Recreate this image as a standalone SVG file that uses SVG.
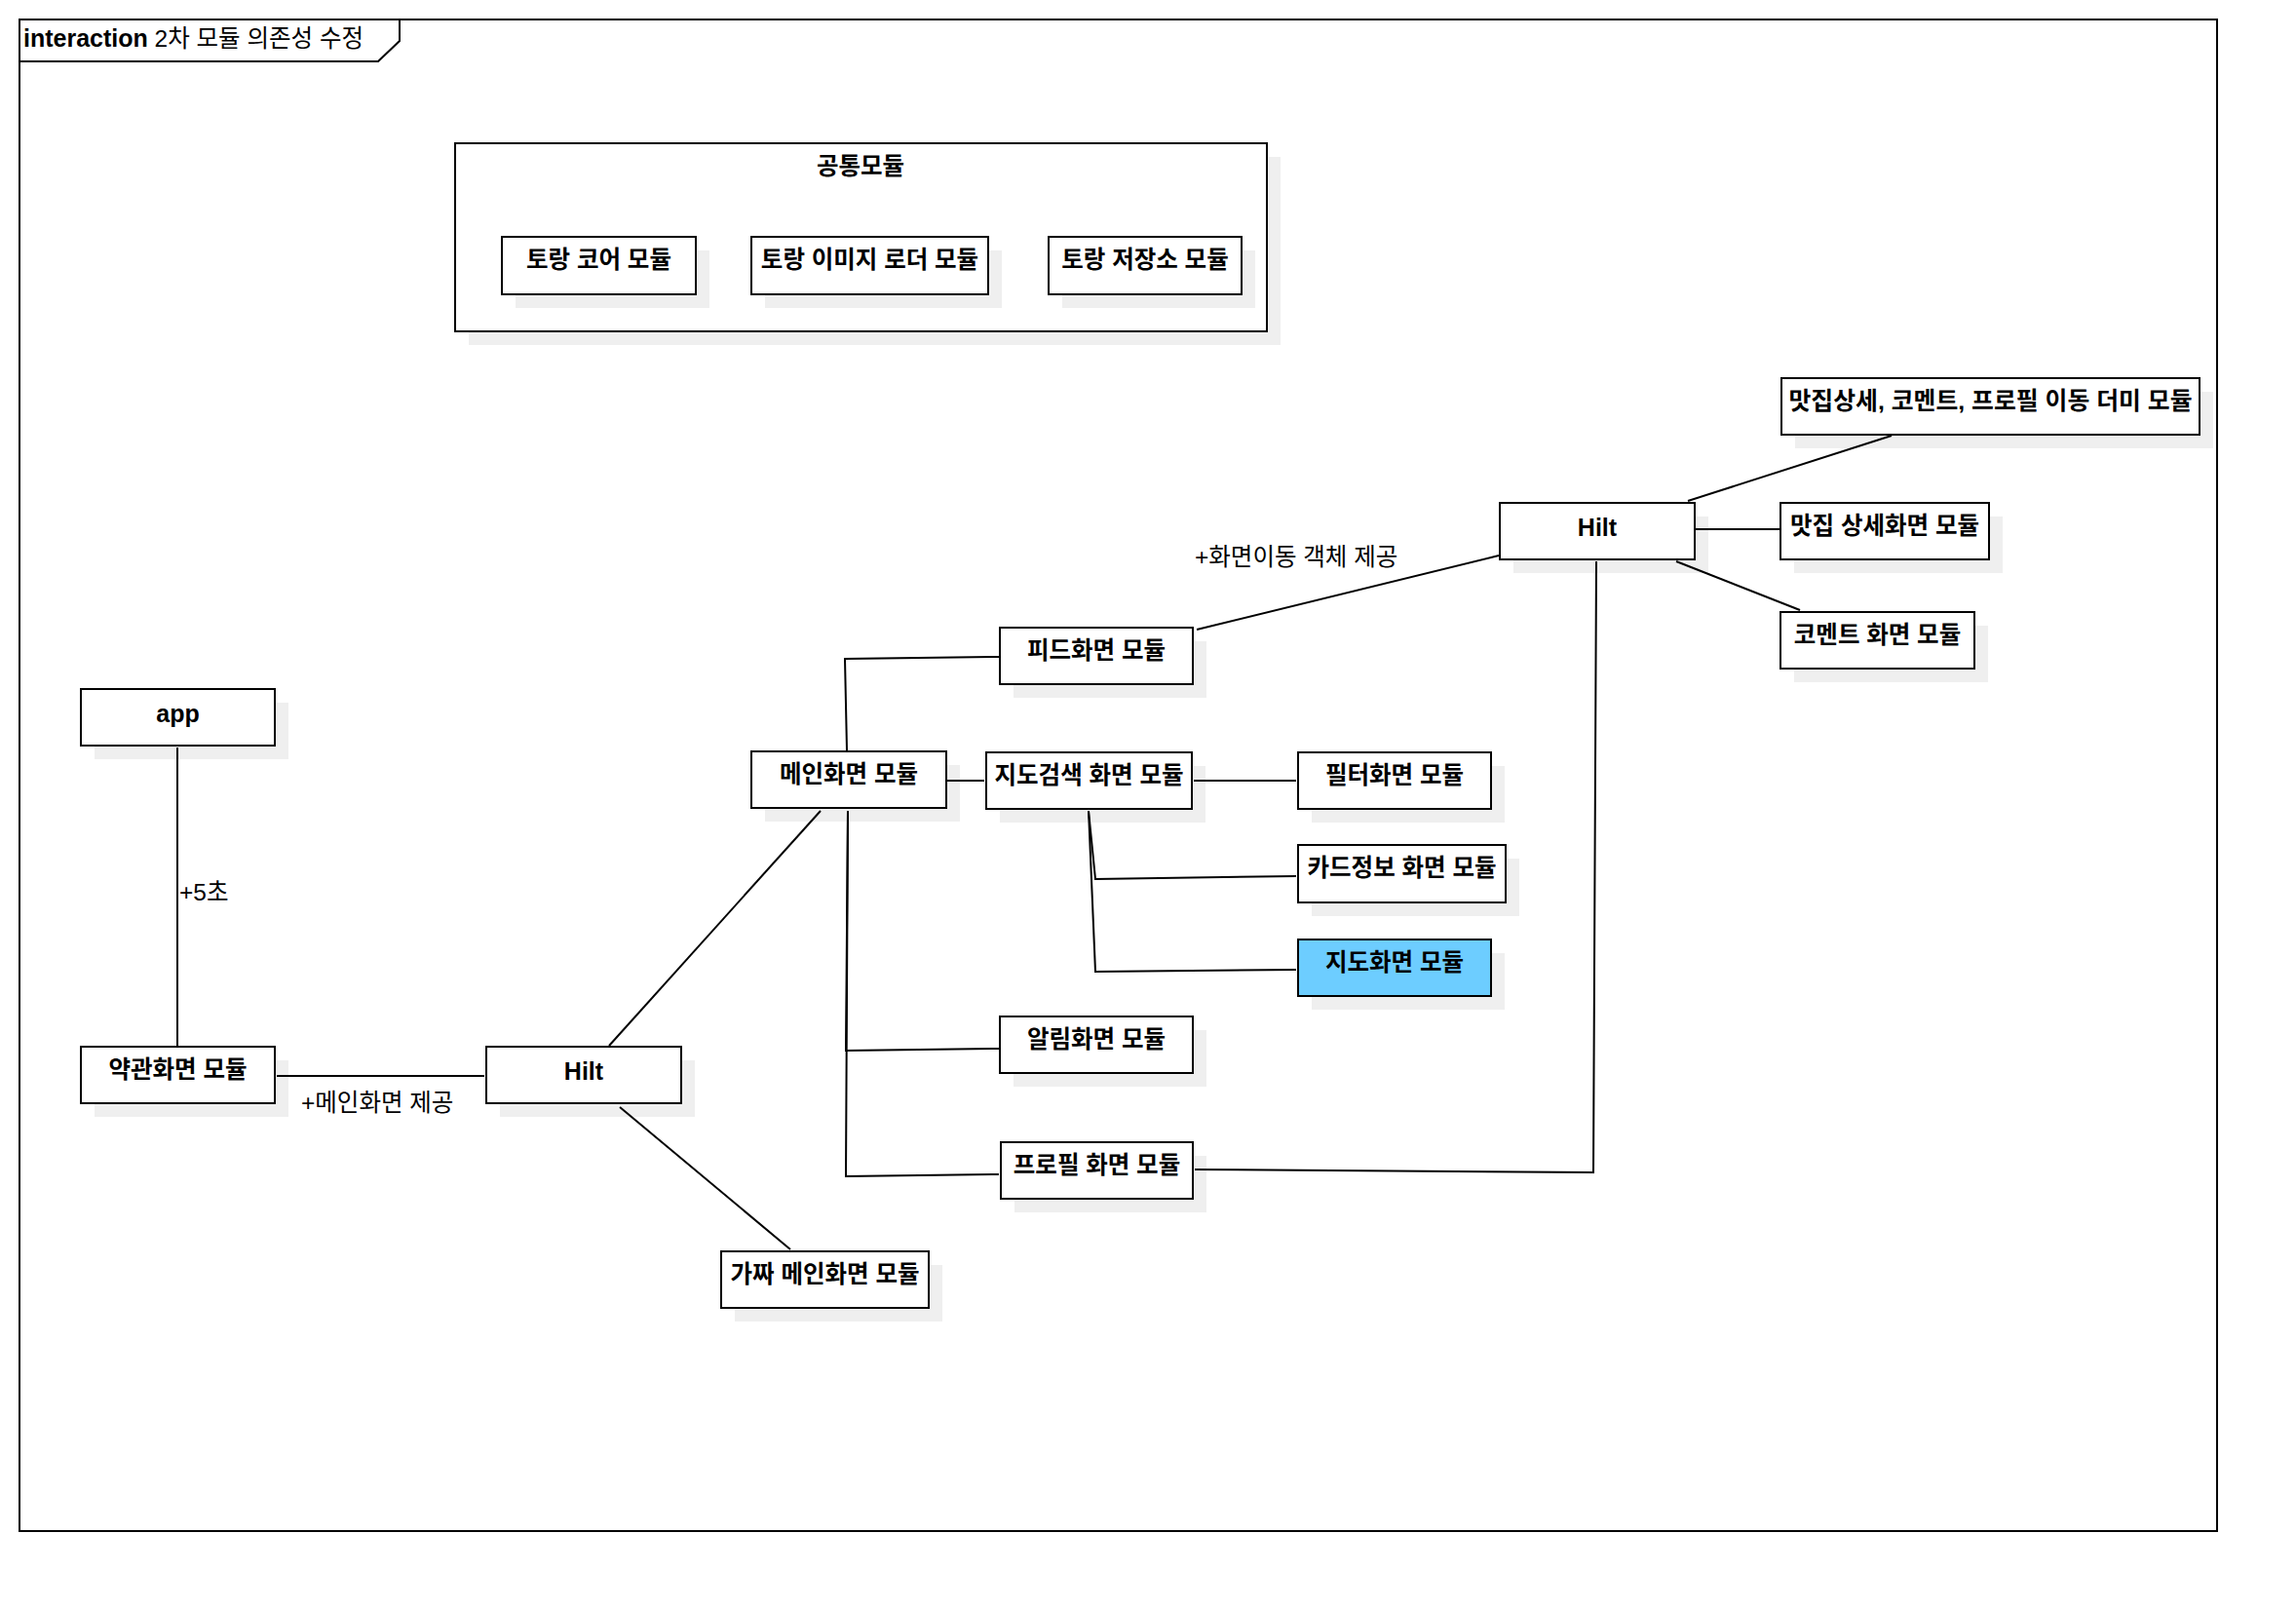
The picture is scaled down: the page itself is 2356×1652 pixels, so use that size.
<svg xmlns="http://www.w3.org/2000/svg" width="2356" height="1652" viewBox="0 0 2356 1652">
<style>
.bg{fill:#ffffff}
.frame{fill:none;stroke:#000;stroke-width:2}
.tab{fill:#ffffff;stroke:#000;stroke-width:2}
.box{fill:#ffffff;stroke:#000;stroke-width:2}
.hl{fill:#6dcdff;stroke:#000;stroke-width:2}
.sh{fill:#efefef}
.lbl{font-family:"Liberation Sans","Noto Sans CJK KR",sans-serif;font-size:24.5px;font-weight:bold;fill:#000;text-anchor:middle}
.lat{font-family:"Liberation Sans","Noto Sans CJK KR",sans-serif;font-size:25px;font-weight:bold;fill:#000;text-anchor:middle}
.el{font-family:"Liberation Sans","Noto Sans CJK KR",sans-serif;font-size:24.5px;fill:#000}
.conn{fill:none;stroke:#000;stroke-width:2}
</style>
<rect class="bg" x="0" y="0" width="2356" height="1652"/>
<g id="frame">
<rect class="frame" x="20" y="20" width="2255" height="1551"/>
<path class="tab" d="M20,20 H410 V42 L388,63 H20 Z"/>
<text x="24" y="48" class="el"><tspan style="font-weight:bold;font-size:25px">interaction</tspan> 2차 모듈 의존성 수정</text>
</g>
<g id="common">
<rect class="sh" x="481" y="161" width="833" height="193"/>
<rect class="box" x="467" y="147" width="833" height="193"/>
<text class="lbl" x="883" y="179">공통모듈</text>
</g>
<g id="core">
<rect class="sh" x="529" y="257" width="199" height="59"/>
<rect class="box" x="515" y="243" width="199" height="59"/>
<text class="lbl" x="614.5" y="275">토랑 코어 모듈</text>
</g>
<g id="imgloader">
<rect class="sh" x="785" y="257" width="243" height="59"/>
<rect class="box" x="771" y="243" width="243" height="59"/>
<text class="lbl" x="892.5" y="275">토랑 이미지 로더 모듈</text>
</g>
<g id="storage">
<rect class="sh" x="1090" y="257" width="198" height="59"/>
<rect class="box" x="1076" y="243" width="198" height="59"/>
<text class="lbl" x="1175" y="275">토랑 저장소 모듈</text>
</g>
<g id="app">
<rect class="sh" x="97" y="721" width="199" height="58"/>
<rect class="box" x="83" y="707" width="199" height="58"/>
<text class="lat" x="182.5" y="741">app</text>
</g>
<g id="yakgwan">
<rect class="sh" x="97" y="1088" width="199" height="58"/>
<rect class="box" x="83" y="1074" width="199" height="58"/>
<text class="lbl" x="182.5" y="1106">약관화면 모듈</text>
</g>
<g id="hilt1">
<rect class="sh" x="513" y="1088" width="200" height="58"/>
<rect class="box" x="499" y="1074" width="200" height="58"/>
<text class="lat" x="599" y="1108">Hilt</text>
</g>
<g id="fake">
<rect class="sh" x="754" y="1298" width="213" height="58"/>
<rect class="box" x="740" y="1284" width="213" height="58"/>
<text class="lbl" x="846.5" y="1316">가짜 메인화면 모듈</text>
</g>
<g id="main">
<rect class="sh" x="785" y="785" width="200" height="58"/>
<rect class="box" x="771" y="771" width="200" height="58"/>
<text class="lbl" x="871" y="803">메인화면 모듈</text>
</g>
<g id="mapsearch">
<rect class="sh" x="1026" y="786" width="211" height="58"/>
<rect class="box" x="1012" y="772" width="211" height="58"/>
<text class="lbl" x="1117.5" y="804">지도검색 화면 모듈</text>
</g>
<g id="feed">
<rect class="sh" x="1040" y="658" width="198" height="58"/>
<rect class="box" x="1026" y="644" width="198" height="58"/>
<text class="lbl" x="1125" y="676">피드화면 모듈</text>
</g>
<g id="alarm">
<rect class="sh" x="1040" y="1057" width="198" height="58"/>
<rect class="box" x="1026" y="1043" width="198" height="58"/>
<text class="lbl" x="1125" y="1075">알림화면 모듈</text>
</g>
<g id="profile">
<rect class="sh" x="1041" y="1186" width="197" height="58"/>
<rect class="box" x="1027" y="1172" width="197" height="58"/>
<text class="lbl" x="1125.5" y="1204">프로필 화면 모듈</text>
</g>
<g id="filter">
<rect class="sh" x="1346" y="786" width="198" height="58"/>
<rect class="box" x="1332" y="772" width="198" height="58"/>
<text class="lbl" x="1431" y="804">필터화면 모듈</text>
</g>
<g id="card">
<rect class="sh" x="1346" y="881" width="213" height="59"/>
<rect class="box" x="1332" y="867" width="213" height="59"/>
<text class="lbl" x="1438.5" y="899">카드정보 화면 모듈</text>
</g>
<g id="mapview">
<rect class="sh" x="1346" y="978" width="198" height="58"/>
<rect class="hl" x="1332" y="964" width="198" height="58"/>
<text class="lbl" x="1431" y="996">지도화면 모듈</text>
</g>
<g id="hilt2">
<rect class="sh" x="1553" y="530" width="200" height="58"/>
<rect class="box" x="1539" y="516" width="200" height="58"/>
<text class="lat" x="1639" y="550">Hilt</text>
</g>
<g id="dummy">
<rect class="sh" x="1842" y="402" width="429" height="58"/>
<rect class="box" x="1828" y="388" width="429" height="58"/>
<text class="lbl" x="2042.5" y="420" textLength="414" lengthAdjust="spacingAndGlyphs">맛집상세, 코멘트, 프로필 이동 더미 모듈</text>
</g>
<g id="detail">
<rect class="sh" x="1841" y="530" width="214" height="58"/>
<rect class="box" x="1827" y="516" width="214" height="58"/>
<text class="lbl" x="1934" y="548">맛집 상세화면 모듈</text>
</g>
<g id="comment">
<rect class="sh" x="1841" y="642" width="199" height="58"/>
<rect class="box" x="1827" y="628" width="199" height="58"/>
<text class="lbl" x="1926.5" y="660">코멘트 화면 모듈</text>
</g>
<g id="connectors">
<polyline class="conn" points="182,767 182,1073"/>
<polyline class="conn" points="284,1104 497,1104"/>
<polyline class="conn" points="625,1073 842,832"/>
<polyline class="conn" points="636,1136 811,1282"/>
<polyline class="conn" points="869,770 867,676 1025,674"/>
<polyline class="conn" points="972,801 1010,801"/>
<polyline class="conn" points="870,832 868,1078 1025,1076"/>
<polyline class="conn" points="870,832 868,1207 1025,1205"/>
<polyline class="conn" points="1225,801 1330,801"/>
<polyline class="conn" points="1117,832 1124,902 1330,899"/>
<polyline class="conn" points="1117,832 1124,997 1330,995"/>
<polyline class="conn" points="1228,646 1538,570"/>
<polyline class="conn" points="1732,514 1941,447"/>
<polyline class="conn" points="1740,543 1826,543"/>
<polyline class="conn" points="1720,576 1847,626"/>
<polyline class="conn" points="1226,1200 1635,1203 1638,576"/>
<text class="el" x="184" y="924">+5초</text>
<text class="el" x="309" y="1140">+메인화면 제공</text>
<text class="el" x="1226" y="580">+화면이동 객체 제공</text>
</g>
</svg>
